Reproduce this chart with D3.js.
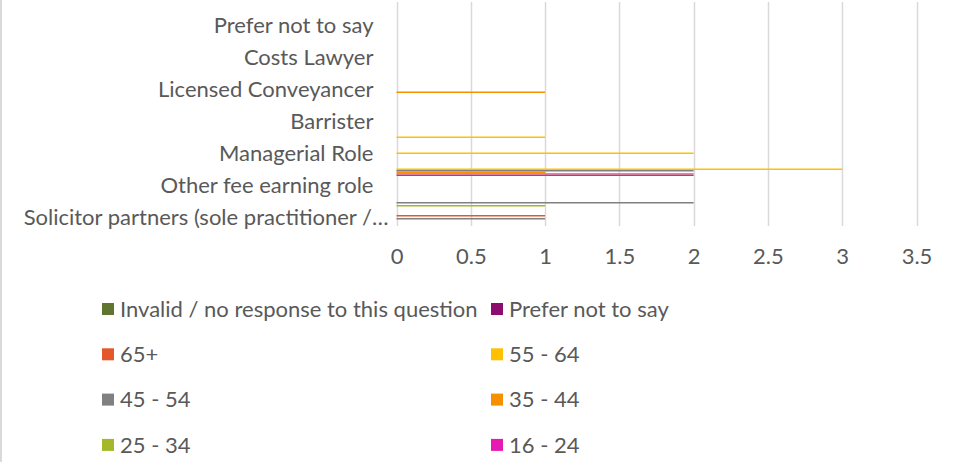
<!DOCTYPE html>
<html>
<head>
<meta charset="utf-8">
<script src="https://cdn.jsdelivr.net/npm/d3@7"></script>
<style>
	body { margin: 0; background: #fff; }
	text { font-family: Lato, "Open Sans", sans-serif; fill: #595959; }
</style>
</head>
<body>
<div id="chart"></div>
<script>
// categories in sheet order (first one sits at the bottom of the chart)
var categories = [
	"Solicitor partners (sole practitioner /…",
	"Solicitor (non-partner)",
	"Other fee earning role",
	"Solicitor (employed)",
	"Managerial Role",
	"Support staff",
	"Barrister",
	"Chartered Legal Executive",
	"Licensed Conveyancer",
	"Notary",
	"Costs Lawyer",
	"Patent Attorney",
	"Prefer not to say",
	"Invalid / no response"
];

var series = ["Invalid / no response to this question", "Prefer not to say", "65+", "55 - 64",
	"45 - 54", "35 - 44", "25 - 34", "16 - 24"];
var colors = ["#5f7530", "#8b0e6f", "#e4572a", "#ffc000", "#808080", "#f59000", "#a5b82a", "#e619b2"];

var invalid   = [0, 0, 0, 0, 0, 0, 0, 0, 0, 0, 0, 0, 0, 0];
var preferNot = [0, 0, 0, 0, 0, 0, 0, 0, 0, 0, 0, 0, 0, 0];
var age65     = [1, 0, 0, 0, 0, 0, 0, 0, 0, 0, 0, 0, 0, 0];
var age55     = [0, 0, 0, 3, 2, 1, 0, 0, 0, 0, 0, 0, 0, 0];
var age45     = [1, 2, 0, 2, 0, 0, 0, 0, 0, 0, 0, 0, 0, 0];
var age35     = [0, 0, 0, 1, 0, 0, 0, 0, 1, 0, 0, 0, 0, 0];
var age25     = [0, 1, 0, 2, 0, 0, 0, 0, 0, 0, 0, 0, 0, 0];
var age16     = [0, 0, 0, 2, 0, 0, 0, 0, 0, 0, 0, 0, 0, 0];

var xTicks = [0, 0.5, 1, 1.5, 2, 2.5, 3, 3.5];

var values = [invalid, preferNot, age65, age55, age45, age35, age25, age16];

var width = 957, height = 462;
var margin = {top: 2, left: 396.5, right: 40.5, bottom: 236};
var fontSize = "22px";

var svg = d3.select("#chart").append("svg")
		.attr("width", width)
		.attr("height", height);

// chart border on the left edge
svg.append("line")
		.attr("x1", 1).attr("x2", 1)
		.attr("y1", 0).attr("y2", height)
		.attr("stroke", "#d9d9d9")
		.attr("stroke-width", 2);

var x = d3.scaleLinear()
		.domain([0, 3.5])
		.range([margin.left, width - margin.right]);

var y = d3.scaleBand()
		.domain(categories)
		.range([height - margin.bottom, margin.top]);

// series stacked top to bottom inside each band
var sub = d3.scaleBand()
		.domain(series)
		.range([y.bandwidth() * 0.125, y.bandwidth() * 0.875]);

var grid = svg.append("g");
grid.selectAll("line")
		.data(xTicks)
	.enter().append("line")
		.attr("x1", d => Math.round(x(d)) + 0.5)
		.attr("x2", d => Math.round(x(d)) + 0.5)
		.attr("y1", margin.top)
		.attr("y2", height - margin.bottom)
		.attr("stroke", "#d9d9d9")
		.attr("stroke-width", 1.5);

var xaxis = d3.axisBottom(x)
		.tickValues(xTicks)
		.tickSize(0)
		.tickPadding(0)
		.tickFormat(d => String(d));

svg.append("g")
		.attr("transform", `translate(0, 256)`)
		.call(xaxis)
		.call(g => g.select(".domain").remove())
		.selectAll("text")
		.attr("dy", "0.35em")
		.style("font-size", fontSize);

// Excel skips every other label when they crowd
var yaxis = d3.axisLeft(y)
		.tickValues(categories.filter((d, i) => i % 2 === 0))
		.tickSize(0)
		.tickPadding(23);

svg.append("g")
		.attr("transform", `translate(${margin.left}, 0)`)
		.call(yaxis)
		.call(g => g.select(".domain").remove())
		.selectAll("text")
		.attr("dx", d => d === categories[0] ? 15 : 0)
		.style("font-size", fontSize);

var bars = svg.append("g");
series.forEach((s, si) => {
	bars.append("g")
			.attr("fill", colors[si])
		.selectAll("rect")
			.data(values[si].map((v, ci) => ({cat: categories[ci], value: v})).filter(d => d.value > 0))
		.enter().append("rect")
			.attr("x", x(0))
			.attr("y", d => y(d.cat) + sub(s))
			.attr("width", d => x(d.value) - x(0))
			.attr("height", sub.bandwidth());
});

// legend, two columns
var legend = svg.append("g")
		.selectAll("g")
		.data(series)
	.enter().append("g")
		.attr("transform", (d, i) => `translate(${i % 2 ? 491 : 102}, ${309 + Math.floor(i / 2) * 45.3})`);

legend.append("rect")
		.attr("x", 0)
		.attr("y", -6)
		.attr("width", 12)
		.attr("height", 12)
		.attr("fill", (d, i) => colors[i]);

legend.append("text")
		.attr("x", 18)
		.attr("dy", "0.35em")
		.style("font-size", fontSize)
		.text(d => d);
</script>
</body>
</html>
